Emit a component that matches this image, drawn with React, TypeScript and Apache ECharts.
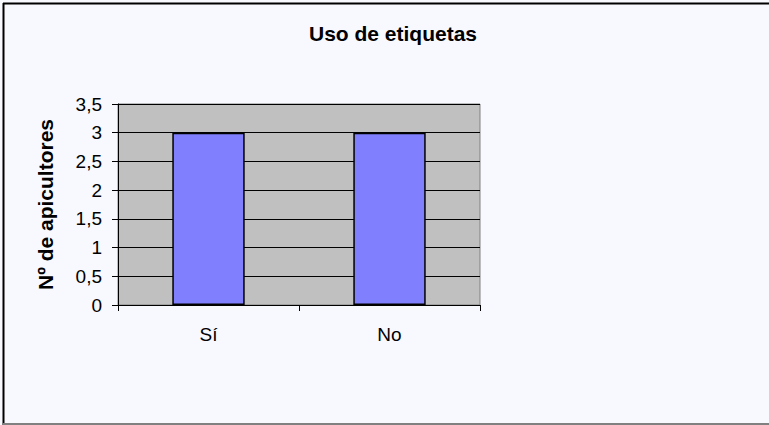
import React, { useEffect, useRef } from "react";
import * as echarts from "echarts";

const categories = ["Sí", "No"];
const values = [3, 3];
const titleText = "Uso de etiquetas";
const yAxisName = "Nº de apicultores";
const yMin = 0;
const yMax = 3.5;
const yInterval = 0.5;

const FONT = "Arial, 'Liberation Sans', sans-serif";

export default function App() {
  const ref = useRef<HTMLDivElement>(null);
  useEffect(() => {
    if (!ref.current) return;
    const chart = echarts.init(ref.current, null, { renderer: "svg" });
    chart.setOption({
      animation: false,
      backgroundColor: "#F8F9FE",
      title: {
        text: titleText,
        left: 388,
        textAlign: "center",
        top: 18,
        textStyle: { fontFamily: FONT, fontSize: 21, fontWeight: "bold", color: "#000" },
      },
      grid: {
        left: 118,
        top: 104,
        width: 362,
        height: 201,
        show: true,
        backgroundColor: "#C0C0C0",
        borderColor: "#808080",
        borderWidth: 1,
      },
      xAxis: {
        type: "category",
        data: categories,
        boundaryGap: true,
        axisLine: { show: true, lineStyle: { color: "#000", width: 1 } },
        axisTick: { show: true, alignWithLabel: false, length: 6, lineStyle: { color: "#000" } },
        axisLabel: { margin: 20, fontFamily: FONT, fontSize: 19, color: "#000" },
        splitLine: { show: false },
      },
      yAxis: {
        type: "value",
        min: yMin,
        max: yMax,
        interval: yInterval,
        name: yAxisName,
        nameLocation: "middle",
        nameGap: 62,
        nameRotate: 90,
        nameTextStyle: { fontFamily: FONT, fontSize: 21, fontWeight: "bold", color: "#000" },
        axisLine: { show: true, lineStyle: { color: "#000", width: 1 } },
        axisTick: { show: true, length: 6, inside: false, lineStyle: { color: "#000" } },
        axisLabel: {
          margin: 16,
          fontFamily: FONT,
          fontSize: 19,
          color: "#000",
          formatter: (v: number) => String(v).replace(".", ","),
        },
        splitLine: { show: true, lineStyle: { color: "#000", width: 1 } },
      },
      series: [
        {
          type: "bar",
          data: values,
          barWidth: "40%",
          itemStyle: { color: "#8080FF", borderColor: "#000", borderWidth: 1.5 },
        },
      ],
      graphic: [
        { type: "line", shape: { x1: 3.5, y1: 3, x2: 3.5, y2: 425 }, style: { stroke: "#000", lineWidth: 2 } },
        { type: "line", shape: { x1: 3, y1: 3.5, x2: 769, y2: 3.5 }, style: { stroke: "#000", lineWidth: 2 } },
        { type: "line", shape: { x1: 3, y1: 424, x2: 769, y2: 424 }, style: { stroke: "#808080", lineWidth: 2 } },
      ],
    });
    return () => chart.dispose();
  }, []);
  return (
    <div
      ref={ref}
      style={{ position: "fixed", left: 0, top: 0, width: 769, height: 425 }}
    />
  );
}
